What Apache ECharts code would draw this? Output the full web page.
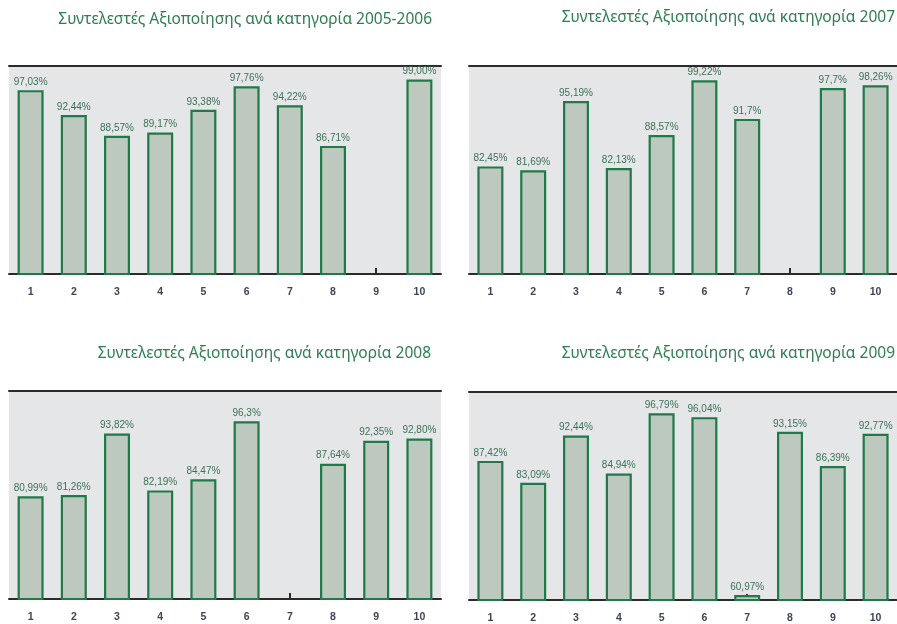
<!DOCTYPE html>
<html>
<head>
<meta charset="utf-8">
<script src="https://cdn.jsdelivr.net/npm/echarts@6/dist/echarts.min.js"></script>
<style>
  html, body { margin: 0; padding: 0; background: #ffffff; }
  #chart { width: 897px; height: 624px; }
</style>
</head>
<body>
<div id="chart"></div>
<script>
// Categories 1..10 shared by all four panels
const categories = ['1', '2', '3', '4', '5', '6', '7', '8', '9', '10'];

// Utilisation rates (%) per category; null = no value for that category
const rates2005_2006 = ['97.03', '92.44', '88.57', '89.17', '93.38', '97.76', '94.22', '86.71', null, '99.00'];
const rates2007      = ['82.45', '81.69', '95.19', '82.13', '88.57', '99.22', '91.7', null, '97.7', '98.26'];
const rates2008      = ['80.99', '81.26', '93.82', '82.19', '84.47', '96.3', null, '87.64', '92.35', '92.80'];
const rates2009      = ['87.42', '83.09', '92.44', '84.94', '96.79', '96.04', '60.97', '93.15', '86.39', '92.77'];

const titles = [
  'Συντελεστές Αξιοποίησης ανά κατηγορία 2005-2006',
  'Συντελεστές Αξιοποίησης ανά κατηγορία 2007',
  'Συντελεστές Αξιοποίησης ανά κατηγορία 2008',
  'Συντελεστές Αξιοποίησης ανά κατηγορία 2009'
];

const panels = [
  { values: rates2005_2006, grid: { left: 9,   top: 66,  width: 432, height: 208 }, yMin: 63,   yMax: 101.5, title: { right: 460, top: 7 } },
  { values: rates2007,      grid: { left: 469, top: 66,  width: 431, height: 208 }, yMin: 61.5, yMax: 102,   title: { right: -3,  top: 5 } },
  { values: rates2008,      grid: { left: 9,   top: 391, width: 432, height: 208 }, yMin: 60,   yMax: 102.5, title: { right: 461, top: 341 } },
  { values: rates2009,      grid: { left: 469, top: 392, width: 431, height: 209 }, yMin: 60,   yMax: 101,   title: { right: -3,  top: 341 } }
];

const GREEN_TITLE = '#2f7d51';
const BAR_FILL = '#bdc9bf';
const BAR_EDGE = '#1f7a47';
const LABEL_COLOR = '#3b7256';
const AXIS_DARK = '#2b2b2b';

const option = {
  animation: false,
  backgroundColor: '#ffffff',
  title: [],
  grid: [],
  xAxis: [],
  yAxis: [],
  series: []
};

panels.forEach((p, i) => {
  option.title.push(Object.assign({
    text: titles[i],
    textStyle: { color: GREEN_TITLE, fontSize: 15.5, fontWeight: 'normal', fontFamily: 'Noto Sans, sans-serif' }
  }, p.title));

  option.grid.push(Object.assign({
    show: true,
    backgroundColor: '#e5e6e7',
    borderWidth: 0
  }, p.grid));

  // bottom category axis
  option.xAxis.push({
    type: 'category',
    gridIndex: i,
    data: categories,
    position: 'bottom',
    axisLine: { show: true, lineStyle: { color: AXIS_DARK, width: 2 } },
    axisTick: { show: true, inside: true, length: 6, alignWithLabel: true, lineStyle: { color: AXIS_DARK, width: 2 } },
    axisLabel: { color: '#3f4456', fontSize: 10.5, fontWeight: 'bold', margin: 13, fontFamily: 'Liberation Sans, sans-serif' }
  });
  // top rule across each panel
  option.xAxis.push({
    type: 'category',
    gridIndex: i,
    data: categories,
    position: 'top',
    axisLine: { show: true, lineStyle: { color: AXIS_DARK, width: 2 } },
    axisTick: { show: false },
    axisLabel: { show: false }
  });

  option.yAxis.push({
    type: 'value',
    gridIndex: i,
    min: p.yMin,
    max: p.yMax,
    show: false,
    splitLine: { show: false }
  });

  option.series.push({
    type: 'bar',
    xAxisIndex: i * 2,
    yAxisIndex: i,
    barWidth: 26,
    itemStyle: { color: BAR_FILL, borderColor: BAR_EDGE, borderWidth: 2.2 },
    label: {
      show: true,
      position: 'top',
      distance: 3,
      color: LABEL_COLOR,
      fontSize: 10,
      fontFamily: 'Liberation Sans Narrow, Liberation Sans, sans-serif'
    },
    data: p.values.map(v => v === null ? null : {
      value: parseFloat(v),
      label: { formatter: v.replace('.', ',') + '%' }
    })
  });
});

const chart = echarts.init(document.getElementById('chart'), null, { renderer: 'canvas' });
chart.setOption(option);
</script>
</body>
</html>
